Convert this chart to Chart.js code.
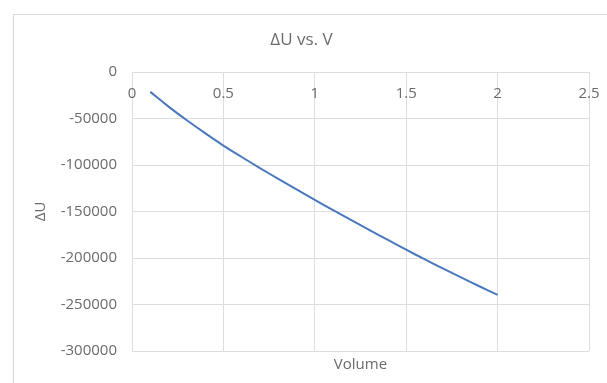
<!DOCTYPE html>
<html>
<head>
<meta charset="utf-8">
<script src="https://cdn.jsdelivr.net/npm/chart.js@4.4.1/dist/chart.umd.min.js"></script>
<style>
  html, body { margin: 0; padding: 0; background: #fff; overflow: hidden; }
  #frame {
    position: absolute; left: 13px; top: 14px;
    width: 600px; height: 368px;
    border: 1px solid #d9d9d9; background: #fff;
  }
  #chart { display: block; }
</style>
</head>
<body>
<div id="frame"><canvas id="chart" width="600" height="368"></canvas></div>
<script>
// volume (x) and change in internal energy (y)
const volume = [0.1, 0.2, 0.3, 0.4, 0.5, 0.6, 0.7, 0.8, 0.9, 1.0,
                1.1, 1.2, 1.3, 1.4, 1.5, 1.6, 1.7, 1.8, 1.9, 2.0];
const deltaU = [-21400, -37200, -51900, -65800, -79100, -91400, -103300, -114900, -126300, -137500,
                -148500, -159300, -170000, -180600, -191100, -201300, -211200, -220900, -230400, -239600];

const xTicks = [0, 0.5, 1, 1.5, 2, 2.5];
const yTicks = [0, -50000, -100000, -150000, -200000, -250000, -300000];

const textColor = '#6b6b6b';
const gridColor = '#dedede';
const tickFont = { family: 'Open Sans', size: 15 };

const setTicks = list => scale => { scale.ticks = list.map(v => ({ value: v })); };

// Excel puts the category labels just under the y = 0 line, inside the plot
const topLabels = {
    id: 'topLabels',
    afterDraw(chart) {
        const { ctx, scales: { x, y } } = chart;
        const base = y.getPixelForValue(0);
        ctx.save();
        ctx.fillStyle = textColor;
        ctx.font = '15px "Open Sans"';
        ctx.textAlign = 'center';
        ctx.textBaseline = 'middle';
        xTicks.forEach(v => ctx.fillText(String(v), x.getPixelForValue(v), base + 22));
        ctx.restore();
    }
};

new Chart(document.getElementById('chart'), {
    type: 'line',
    data: {
        datasets: [{
            label: 'ΔU',
            data: volume.map((v, i) => ({ x: v, y: deltaU[i] })),
            borderColor: '#4a78bd',
            borderWidth: 2,
            pointRadius: 0,
            fill: false,
            tension: 0.4
        }]
    },
    options: {
        responsive: false,
        animation: false,
        layout: { padding: { left: 0, right: 25, top: 0, bottom: 0 } },
        plugins: {
            legend: { display: false },
            tooltip: { enabled: false },
            title: {
                display: true,
                text: 'ΔU vs. V',
                color: textColor,
                font: { family: 'Open Sans', size: 17, weight: 'normal' },
                padding: { top: 15, bottom: 21.6 }
            }
        },
        scales: {
            x: {
                type: 'linear',
                position: 'bottom',
                min: 0, max: 2.5,
                afterBuildTicks: setTicks(xTicks),
                ticks: { display: false },
                grid: { color: gridColor, drawTicks: false },
                border: { display: false },
                title: {
                    display: true, text: 'Volume', color: textColor,
                    font: tickFont, padding: { top: 4, bottom: 9 }
                },
                afterFit: s => { s.height = 32; }
            },
            y: {
                type: 'linear',
                position: 'left',
                min: -300000, max: 0,
                afterBuildTicks: setTicks(yTicks),
                ticks: { color: textColor, font: tickFont, padding: 15, callback: v => String(v) },
                grid: { color: gridColor, drawTicks: false },
                border: { color: gridColor },
                title: {
                    display: true, text: 'ΔU', color: textColor,
                    font: tickFont, padding: { top: 18, bottom: 0 }
                },
                afterFit: s => { s.width = 118; }
            }
        }
    },
    plugins: [topLabels]
});
</script>
</body>
</html>
